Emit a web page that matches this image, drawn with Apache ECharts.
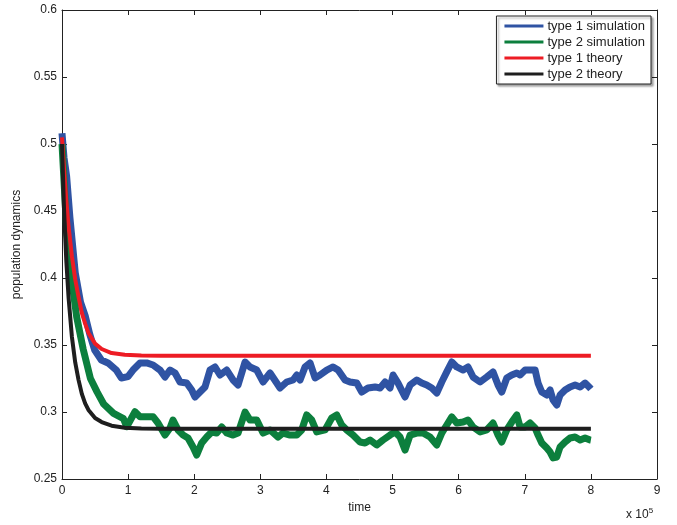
<!DOCTYPE html>
<html>
<head>
<meta charset="utf-8">
<script src="https://cdn.jsdelivr.net/npm/echarts@6/dist/echarts.min.js"></script>
<style>
  html, body { margin: 0; padding: 0; background: #fff; }
  #main { width: 677px; height: 525px; }
</style>
</head>
<body>
<div id="main"></div>
<script>
// time is in units of 10^5
const xTicks = [0, 1, 2, 3, 4, 5, 6, 7, 8, 9]
const yTicks = [0.25, 0.3, 0.35, 0.4, 0.45, 0.5, 0.55, 0.6]

const type1Sim = [
  [0, 0.508], [0.03, 0.490], [0.07, 0.476], [0.12, 0.445], [0.2, 0.404], [0.28, 0.382],
  [0.35, 0.372], [0.42, 0.358], [0.494, 0.3463], [0.595, 0.3388], [0.696, 0.3366], [0.822, 0.3313],
  [0.897, 0.3254], [0.998, 0.3264], [1.074, 0.3313], [1.18, 0.3366], [1.281, 0.3366], [1.377, 0.3351],
  [1.483, 0.3313], [1.558, 0.3261], [1.634, 0.3313], [1.71, 0.3291], [1.785, 0.3224], [1.886, 0.3216],
  [1.962, 0.3164], [2.012, 0.3112], [2.088, 0.3149], [2.163, 0.3187], [2.239, 0.3313], [2.315, 0.3336],
  [2.39, 0.3276], [2.492, 0.3313], [2.587, 0.3239], [2.663, 0.3201], [2.769, 0.3373], [2.844, 0.3336],
  [2.946, 0.3313], [3.041, 0.3224], [3.147, 0.3291], [3.248, 0.3216], [3.298, 0.3179], [3.399, 0.3224],
  [3.495, 0.3239], [3.551, 0.3276], [3.601, 0.3239], [3.676, 0.3336], [3.752, 0.3366], [3.828, 0.3254],
  [3.903, 0.3276], [4.005, 0.3313], [4.1, 0.3336], [4.176, 0.3313], [4.281, 0.3239], [4.357, 0.3224],
  [4.458, 0.3216], [4.534, 0.3149], [4.629, 0.3179], [4.735, 0.3187], [4.811, 0.3179], [4.887, 0.3224],
  [4.962, 0.3179], [5.008, 0.3276], [5.083, 0.3216], [5.189, 0.3112], [5.265, 0.3201], [5.366, 0.3239],
  [5.442, 0.3216], [5.517, 0.3201], [5.593, 0.3179], [5.669, 0.3142], [5.744, 0.3224], [5.82, 0.3299],
  [5.896, 0.3373], [5.971, 0.3336], [6.067, 0.3313], [6.142, 0.3336], [6.218, 0.3261], [6.324, 0.3224],
  [6.425, 0.3261], [6.52, 0.3299], [6.596, 0.3201], [6.652, 0.3149], [6.728, 0.3254], [6.803, 0.3276],
  [6.879, 0.3291], [6.929, 0.3276], [7.005, 0.3313], [7.08, 0.3313], [7.156, 0.3313], [7.201, 0.3216],
  [7.257, 0.3149], [7.333, 0.3127], [7.383, 0.3164], [7.428, 0.3090], [7.484, 0.3052], [7.534, 0.3127],
  [7.61, 0.3164], [7.685, 0.3187], [7.761, 0.3201], [7.837, 0.3187], [7.912, 0.3216], [7.988, 0.3179],
  [8, 0.3172]
]

const type2Sim = [
  [0, 0.5], [0.071, 0.4358], [0.147, 0.3985], [0.222, 0.371], [0.32, 0.347], [0.43, 0.325],
  [0.53, 0.315], [0.63, 0.306], [0.78, 0.299], [0.93, 0.295], [0.979, 0.289], [1.104, 0.3002],
  [1.18, 0.2965], [1.281, 0.2965], [1.377, 0.2965], [1.452, 0.2918], [1.558, 0.2828], [1.634, 0.2881],
  [1.679, 0.294], [1.755, 0.2866], [1.831, 0.2828], [1.906, 0.2806], [1.982, 0.2739], [2.038, 0.2679],
  [2.113, 0.2769], [2.189, 0.2813], [2.265, 0.2851], [2.34, 0.2843], [2.416, 0.2888], [2.492, 0.2843],
  [2.587, 0.2828], [2.663, 0.2843], [2.769, 0.3], [2.844, 0.294], [2.946, 0.294], [3.041, 0.2843],
  [3.147, 0.2866], [3.268, 0.2813], [3.343, 0.2843], [3.449, 0.2828], [3.551, 0.2828], [3.626, 0.2866],
  [3.702, 0.2978], [3.778, 0.294], [3.853, 0.2851], [3.979, 0.2866], [4.08, 0.2955], [4.156, 0.2978],
  [4.231, 0.2903], [4.307, 0.2866], [4.402, 0.2828], [4.508, 0.2776], [4.584, 0.2769], [4.66, 0.2791],
  [4.761, 0.2754], [4.856, 0.2791], [4.962, 0.2828], [5.038, 0.2851], [5.113, 0.2813], [5.189, 0.2716],
  [5.265, 0.2828], [5.366, 0.2843], [5.461, 0.2843], [5.567, 0.2813], [5.669, 0.2754], [5.744, 0.2843],
  [5.82, 0.2903], [5.896, 0.2963], [5.971, 0.2918], [6.067, 0.2925], [6.142, 0.294], [6.218, 0.2888],
  [6.324, 0.2851], [6.425, 0.2866], [6.52, 0.2918], [6.596, 0.2828], [6.652, 0.2776], [6.728, 0.2866],
  [6.803, 0.2925], [6.879, 0.2978], [6.929, 0.2888], [7.005, 0.2888], [7.08, 0.2918], [7.156, 0.2881],
  [7.201, 0.2828], [7.257, 0.2769], [7.333, 0.2731], [7.383, 0.2701], [7.428, 0.2657], [7.484, 0.2664],
  [7.534, 0.2739], [7.61, 0.2776], [7.685, 0.2806], [7.761, 0.2813], [7.837, 0.2791], [7.912, 0.2806],
  [7.988, 0.2791], [8, 0.279]
]

const theoryTime = [0, 0.03, 0.065, 0.1, 0.15, 0.2, 0.25, 0.3, 0.35, 0.4, 0.5, 0.6, 0.75, 0.95, 1.2, 1.5,
  2, 3, 4, 5, 6, 7, 8]
const type1Theory = [0.505, 0.482, 0.458, 0.438, 0.416, 0.399, 0.386, 0.374, 0.366, 0.359, 0.351, 0.347,
  0.344, 0.3428, 0.3422, 0.342, 0.342, 0.342, 0.342, 0.342, 0.342, 0.342, 0.342]
const type2Theory = [0.5, 0.452, 0.413, 0.385, 0.356, 0.337, 0.324, 0.3135, 0.3065, 0.3015, 0.2955, 0.2925,
  0.2898, 0.2883, 0.2877, 0.2875, 0.2875, 0.2875, 0.2875, 0.2875, 0.2875, 0.2875, 0.2875]

const font = "'Liberation Sans', Arial, Helvetica, sans-serif"

const myChart = echarts.init(document.getElementById('main'), null, { renderer: 'canvas' })

function pairUp (times, vals) {
  return times.map((t, i) => [t, vals[i]])
}

// box axes, ticks pointing inward like matlab
function xAxisOf (pos, showLabel) {
  return {
    type: 'value',
    position: pos,
    min: xTicks[0],
    max: xTicks[xTicks.length - 1],
    interval: 1,
    name: showLabel ? 'time' : '',
    nameLocation: 'middle',
    nameGap: 22,
    nameTextStyle: { color: '#222', fontSize: 12, fontFamily: font },
    axisLine: { onZero: false, lineStyle: { color: '#222', width: 1 } },
    axisTick: { show: true, inside: true, length: 5, lineStyle: { color: '#222' } },
    axisLabel: { show: showLabel, color: '#222', fontSize: 12, fontFamily: font, margin: 6 },
    splitLine: { show: false }
  }
}
function yAxisOf (pos, showLabel) {
  return {
    type: 'value',
    position: pos,
    min: yTicks[0],
    max: yTicks[yTicks.length - 1],
    interval: 0.05,
    name: showLabel ? 'population dynamics' : '',
    nameLocation: 'middle',
    nameGap: 34,
    nameTextStyle: { color: '#222', fontSize: 12, fontFamily: font },
    axisLine: { onZero: false, lineStyle: { color: '#222', width: 1 } },
    axisTick: { show: true, inside: true, length: 5, lineStyle: { color: '#222' } },
    axisLabel: {
      show: showLabel, color: '#222', fontSize: 12, fontFamily: font, margin: 5,
      formatter: v => String(Math.round(v * 100) / 100)
    },
    splitLine: { show: false }
  }
}

myChart.setOption({
  animation: false,
  backgroundColor: '#fff',
  grid: { left: 62, right: 20, top: 10, bottom: 46, containLabel: false },
  xAxis: [xAxisOf('bottom', true), xAxisOf('top', false)],
  yAxis: [yAxisOf('left', true), yAxisOf('right', false)],
  legend: {
    orient: 'vertical',
    right: 26,
    top: 16,
    padding: [3, 6, 3, 8],
    itemGap: 2,
    itemWidth: 39,
    itemHeight: 3,
    icon: 'rect',
    backgroundColor: '#fff',
    borderColor: '#222',
    borderWidth: 1,
    shadowColor: 'rgba(0,0,0,0.35)',
    shadowBlur: 2,
    shadowOffsetX: 2,
    shadowOffsetY: 2,
    textStyle: { color: '#222', fontSize: 13, fontFamily: font, lineHeight: 14, padding: [0, 0, 0, -1] }
  },
  graphic: [{
    type: 'text',
    left: 626,
    top: 507,
    style: {
      text: 'x 10{s|5}',
      fill: '#222',
      font: '12px ' + font,
      rich: { s: { fontSize: 8, verticalAlign: 'top', padding: [0, 0, 8, 0] } }
    }
  }],
  series: [
    {
      name: 'type 1 simulation',
      type: 'line',
      data: type1Sim,
      showSymbol: false,
      color: '#2f53a3',
      lineStyle: { width: 7, color: '#2f53a3', join: 'round' }
    },
    {
      name: 'type 2 simulation',
      type: 'line',
      data: type2Sim,
      showSymbol: false,
      color: '#0c7f3d',
      lineStyle: { width: 7, color: '#0c7f3d', join: 'round' }
    },
    {
      name: 'type 1 theory',
      type: 'line',
      data: pairUp(theoryTime, type1Theory),
      showSymbol: false,
      color: '#ed1c24',
      lineStyle: { width: 4, color: '#ed1c24', join: 'round' }
    },
    {
      name: 'type 2 theory',
      type: 'line',
      data: pairUp(theoryTime, type2Theory),
      showSymbol: false,
      color: '#1e1e1e',
      lineStyle: { width: 4, color: '#1e1e1e', join: 'round' }
    }
  ]
})
</script>
</body>
</html>
